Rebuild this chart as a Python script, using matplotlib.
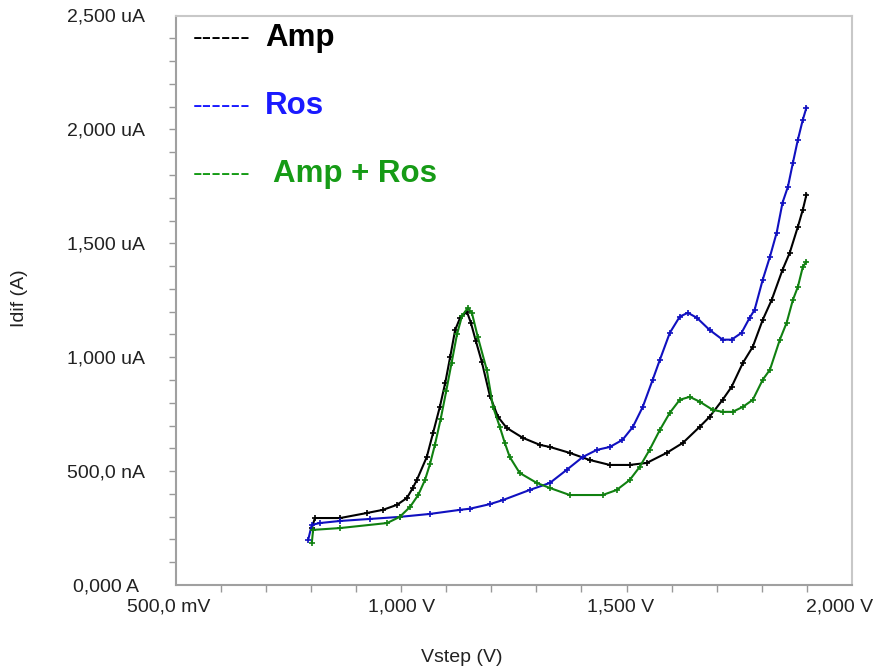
import matplotlib
matplotlib.use("Agg")
import matplotlib.pyplot as plt
from matplotlib.ticker import FixedLocator
from matplotlib.transforms import ScaledTranslation

plt.rcParams['font.family'] = ['Liberation Sans', 'DejaVu Sans']

amp_v = [0.802, 0.809, 0.865, 0.924, 0.960, 0.991, 1.013, 1.026, 1.035, 1.057,
         1.071, 1.086, 1.098, 1.109, 1.120, 1.131, 1.146, 1.155, 1.166, 1.179,
         1.197, 1.215, 1.234, 1.270, 1.308, 1.330, 1.374, 1.418, 1.463, 1.507,
         1.545, 1.589, 1.625, 1.662, 1.684, 1.713, 1.733, 1.758, 1.780, 1.802,
         1.822, 1.846, 1.862, 1.880, 1.891, 1.899]
amp_i = [250, 294, 294, 316, 330, 352, 382, 426, 461, 562,
         668, 782, 888, 1002, 1120, 1173, 1200, 1150, 1070, 980,
         830, 738, 690, 646, 615, 606, 580, 549, 527, 527,
         536, 580, 624, 694, 738, 813, 870, 975, 1046, 1164,
         1252, 1384, 1459, 1573, 1648, 1714]

ros_v = [0.794, 0.802, 0.820, 0.864, 0.931, 0.997, 1.064, 1.131, 1.153, 1.197,
         1.226, 1.285, 1.330, 1.367, 1.403, 1.434, 1.463, 1.491, 1.514, 1.536,
         1.558, 1.574, 1.596, 1.618, 1.636, 1.656, 1.684, 1.713, 1.733, 1.755,
         1.773, 1.784, 1.802, 1.818, 1.833, 1.846, 1.858, 1.869, 1.880, 1.891,
         1.899]
ros_i = [198, 264, 272, 281, 290, 299, 312, 330, 335, 355,
         373, 417, 448, 505, 562, 593, 606, 637, 694, 782,
         901, 989, 1107, 1178, 1195, 1173, 1120, 1077, 1077, 1107,
         1173, 1208, 1340, 1441, 1547, 1679, 1749, 1854, 1955, 2043,
         2096]

mix_v = [0.802, 0.805, 0.865, 0.969, 0.997, 1.020, 1.038, 1.053, 1.064, 1.075,
         1.088, 1.100, 1.112, 1.124, 1.135, 1.148, 1.157, 1.170, 1.190, 1.204,
         1.219, 1.230, 1.241, 1.263, 1.301, 1.330, 1.374, 1.447, 1.478, 1.507,
         1.529, 1.551, 1.574, 1.596, 1.618, 1.640, 1.662, 1.691, 1.713, 1.735,
         1.758, 1.780, 1.802, 1.818, 1.840, 1.855, 1.869, 1.880, 1.891, 1.899]
mix_i = [185, 242, 250, 272, 299, 343, 395, 461, 530, 615,
         730, 850, 975, 1100, 1180, 1217, 1195, 1090, 945, 782,
         694, 624, 562, 492, 448, 426, 395, 395, 417, 461,
         518, 593, 681, 756, 813, 826, 805, 769, 760, 760,
         782, 813, 901, 945, 1077, 1151, 1252, 1309, 1397, 1419]

x_major = [0.5, 1.0, 1.5, 2.0]
x_labels = ["500,0 mV", "1,000 V", "1,500 V", "2,000 V"]
y_major = [0, 500, 1000, 1500, 2000, 2500]
y_labels = ["0,000 A", "500,0 nA", "1,000 uA", "1,500 uA", "2,000 uA", "2,500 uA"]

fig = plt.figure(figsize=(8.83, 6.72), dpi=100)
ax = fig.add_axes([175.6 / 883, 1 - 585 / 672, (852 - 175.6) / 883, (585 - 15.5) / 672])

kw = dict(marker='+', markersize=4, markeredgewidth=1.2, linewidth=1.5)
ax.plot(amp_v, amp_i, color='#000000', **kw)
ax.plot(ros_v, ros_i, color='#1010c0', **kw)
ax.plot(mix_v, mix_i, color='#108010', **kw)

ax.set_xlim(0.5, 2.0)
ax.set_ylim(0, 2500)

ax.xaxis.remove_overlapping_locs = False
ax.yaxis.remove_overlapping_locs = False
ax.set_xticks(x_major)
ax.set_xticklabels(x_labels)
ax.set_yticks(y_major)
ax.set_yticklabels(y_labels)
ax.xaxis.set_minor_locator(FixedLocator([round(0.6 + 0.1 * k, 1) for k in range(14)]))
ax.yaxis.set_minor_locator(FixedLocator([100 * k for k in range(1, 25)]))
ax.tick_params(which='major', length=0, labelsize=14, labelcolor='#222222')
ax.tick_params(axis='x', which='major', pad=10)
ax.tick_params(axis='y', which='major', pad=50)
ax.tick_params(which='minor', length=5, width=1, color='#999999', direction='out')

for lab in ax.get_yticklabels():
    lab.set_horizontalalignment('center')
# the software nudges some x labels to the left
for lab, dx in zip(ax.get_xticklabels(), [-7, 0, -6, -12]):
    lab.set_transform(lab.get_transform() + ScaledTranslation(dx / 100, 0, fig.dpi_scale_trans))

for side in ['left', 'bottom']:
    ax.spines[side].set_color('#a0a0a0')
    ax.spines[side].set_linewidth(1.5)
for side in ['top', 'right']:
    ax.spines[side].set_color('#c8c8c8')
    ax.spines[side].set_linewidth(1.5)

fig.text(20 / 883, 1 - 298 / 672, "Idif (A)", rotation=90, ha='center', va='center',
         fontsize=14, color='#222222')
fig.text(462 / 883, 1 - 657 / 672, "Vstep (V)", ha='center', va='center',
         fontsize=14, color='#222222')

# legend drawn as text entries
legend = [("Amp", '#000000', 38, 265), ("Ros", '#1a1aff', 106, 265), ("Amp + Ros", '#169b16', 174, 273)]
for name, col, ypx, xlab in legend:
    fig.text(193 / 883, 1 - ypx / 672, "------", color=col, fontsize=21,
             ha='left', va='center')
    fig.text(xlab / 883, 1 - ypx / 672, name, color=col, fontsize=22.5,
             fontweight='bold', ha='left', va='center')

fig.savefig("out.png", dpi=100)
